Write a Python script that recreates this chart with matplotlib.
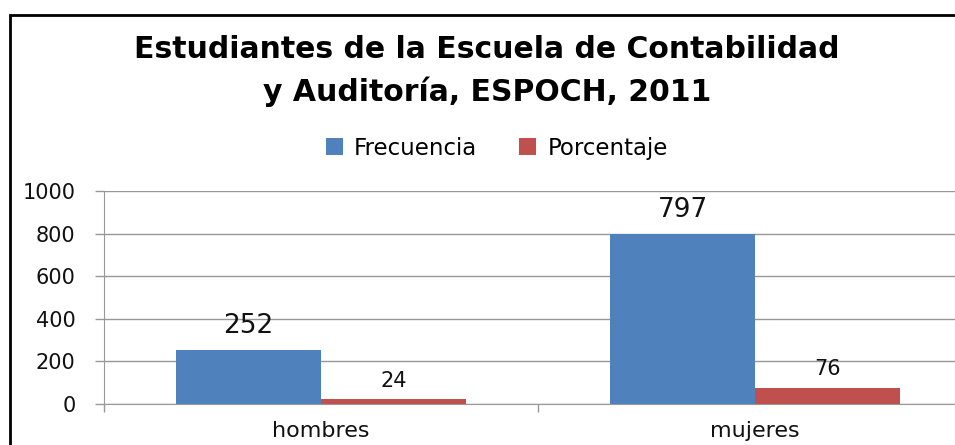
import matplotlib.pyplot as plt
from matplotlib.patches import Rectangle
import numpy as np

# datos del grafico
categorias = ['hombres', 'mujeres']
frecuencia = [252, 797]
porcentaje = [24, 76]
series = ['Frecuencia', 'Porcentaje']
y_ticks = [0, 200, 400, 600, 800, 1000]

azul = '#4F81BD'
rojo = '#C0504D'
gris = '#989898'

fig = plt.figure(figsize=(9.55, 4.45), dpi=100)
ax = fig.add_axes([0.1089, 0.0921, 0.909, 0.4787])

x = np.arange(len(categorias))
width = 1 / 3  # ancho de cada barra

b1 = ax.bar(x - width / 2, frecuencia, width, color=azul, label=series[0], zorder=3)
b2 = ax.bar(x + width / 2, porcentaje, width, color=rojo, label=series[1], zorder=3)

# etiquetas de datos
for rect, val in zip(b1, frecuencia):
    ax.annotate(str(val), xy=(rect.get_x() + rect.get_width() / 2, val),
                xytext=(0, 8), textcoords='offset points',
                ha='center', va='bottom', fontsize=19, color='#111111')
for rect, val in zip(b2, porcentaje):
    ax.annotate(str(val), xy=(rect.get_x() + rect.get_width() / 2, val),
                xytext=(0, 6), textcoords='offset points',
                ha='center', va='bottom', fontsize=15, color='#111111')

ax.set_xlim(-0.5, 1.5)
ax.set_ylim(0, 1000)
ax.set_yticks(y_ticks)
ax.set_yticklabels([str(t) for t in y_ticks], fontsize=15, color='#111111')
ax.set_xticks(x)
ax.set_xticklabels(categorias, fontsize=16, color='#111111')
ax.set_xticks([-0.5, 0.5, 1.5], minor=True)
ax.tick_params(axis='x', which='major', length=0, pad=12)
ax.tick_params(axis='x', which='minor', length=6, color=gris, width=1)
ax.tick_params(axis='y', length=6.5, color=gris, width=1, pad=14)

ax.grid(axis='y', color=gris, linewidth=1, zorder=0)
for s in ['top', 'right']:
    ax.spines[s].set_visible(False)
for s in ['left', 'bottom']:
    ax.spines[s].set_color(gris)
    ax.spines[s].set_zorder(4)

# titulo
fig.text(0.51, 0.84, 'Estudiantes de la Escuela de Contabilidad\ny Auditoría, ESPOCH, 2011',
         ha='center', va='center', fontsize=21.5, fontweight='bold',
         linespacing=1.5, color='black')

# leyenda
fig.legend(handles=[b1, b2], loc='center', bbox_to_anchor=(0.52, 0.667),
           ncol=2, frameon=False, fontsize=16.5, handlelength=0.75,
           handleheight=0.75, handletextpad=0.5, columnspacing=1.8)

# marco exterior
fig.patches.append(Rectangle((0.0105, -0.2), 1.2, 1.166, transform=fig.transFigure,
                             fill=False, edgecolor='black', linewidth=2))

plt.savefig('out.png', dpi=100)
